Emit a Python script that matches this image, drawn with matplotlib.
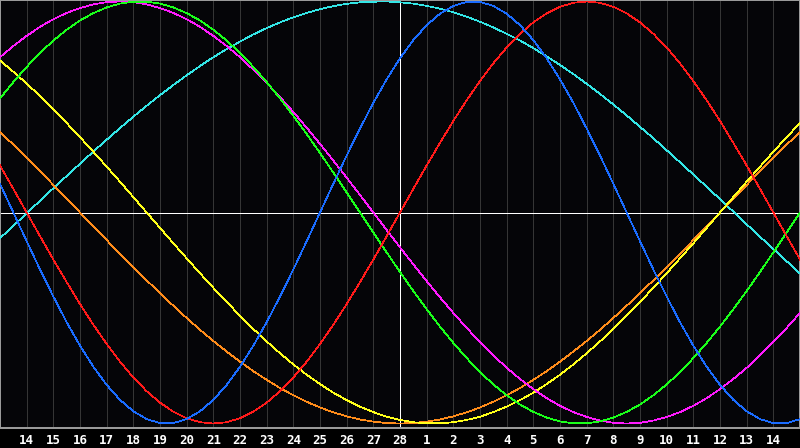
import numpy as np
import matplotlib
matplotlib.use("Agg")
import matplotlib.pyplot as plt

# day labels under the grid lines (left edge is the 13th, right edge the 15th)
day_labels = ['14', '15', '16', '17', '18', '19', '20', '21', '22', '23', '24', '25', '26', '27', '28',
              '1', '2', '3', '4', '5', '6', '7', '8', '9', '10', '11', '12', '13', '14']

# cycle values read every half day, from the left edge to the right edge
physical = [0.136, 0.0, -0.136, -0.270, -0.398, -0.520, -0.631, -0.731, -0.817, -0.888, -0.942,
            -0.979, -0.998, -0.998, -0.979, -0.942, -0.888, -0.817, -0.731, -0.631, -0.520,
            -0.398, -0.270, -0.136, 0.0, 0.136, 0.270, 0.398, 0.520, 0.631, 0.731, 0.817, 0.888,
            0.942, 0.979, 0.998, 0.998, 0.979, 0.942, 0.888, 0.817, 0.731, 0.631, 0.520, 0.398,
            0.270, 0.136, 0.0, -0.136, -0.270, -0.398, -0.520, -0.631, -0.731, -0.817, -0.888,
            -0.942, -0.979, -0.998, -0.998, -0.979]
emotional = [0.223, 0.112, 0.0, -0.112, -0.223, -0.330, -0.434, -0.532, -0.623, -0.707, -0.782,
             -0.847, -0.901, -0.944, -0.975, -0.994, -1.0, -0.994, -0.975, -0.944, -0.901, -0.847,
             -0.782, -0.707, -0.623, -0.532, -0.434, -0.330, -0.223, -0.112, 0.0, 0.112, 0.223,
             0.330, 0.434, 0.532, 0.623, 0.707, 0.782, 0.847, 0.901, 0.944, 0.975, 0.994, 1.0,
             0.994, 0.975, 0.944, 0.901, 0.847, 0.782, 0.707, 0.623, 0.532, 0.434, 0.330, 0.223,
             0.112, 0.0, -0.112, -0.223]
intellectual = [0.541, 0.618, 0.690, 0.756, 0.815, 0.866, 0.910, 0.945, 0.972, 0.990, 0.999, 0.999,
                0.990, 0.972, 0.945, 0.910, 0.866, 0.815, 0.756, 0.690, 0.618, 0.541, 0.458, 0.372,
                0.282, 0.189, 0.095, 0.0, -0.095, -0.189, -0.282, -0.372, -0.458, -0.541, -0.618,
                -0.690, -0.756, -0.815, -0.866, -0.910, -0.945, -0.972, -0.990, -0.999, -0.999,
                -0.990, -0.972, -0.945, -0.910, -0.866, -0.815, -0.756, -0.690, -0.618, -0.541,
                -0.458, -0.372, -0.282, -0.189, -0.095, 0.0]
intuitive = [0.736, 0.789, 0.837, 0.880, 0.916, 0.946, 0.969, 0.986, 0.997, 1.0, 0.997, 0.986,
             0.969, 0.946, 0.916, 0.880, 0.837, 0.789, 0.736, 0.677, 0.614, 0.547, 0.476, 0.402,
             0.325, 0.246, 0.165, 0.083, 0.0, -0.083, -0.165, -0.246, -0.325, -0.402, -0.476,
             -0.547, -0.614, -0.677, -0.736, -0.789, -0.837, -0.880, -0.916, -0.946, -0.969,
             -0.986, -0.997, -1.0, -0.997, -0.986, -0.969, -0.946, -0.916, -0.880, -0.837, -0.789,
             -0.736, -0.677, -0.614, -0.547, -0.476]
aesthetic = [0.720, 0.667, 0.611, 0.552, 0.489, 0.424, 0.357, 0.288, 0.217, 0.146, 0.073, 0.0,
             -0.073, -0.146, -0.217, -0.288, -0.357, -0.424, -0.489, -0.552, -0.611, -0.667,
             -0.720, -0.769, -0.813, -0.854, -0.889, -0.920, -0.946, -0.968, -0.983, -0.994,
             -0.999, -0.999, -0.994, -0.983, -0.968, -0.946, -0.920, -0.889, -0.854, -0.813,
             -0.769, -0.720, -0.667, -0.611, -0.552, -0.489, -0.424, -0.357, -0.288, -0.217,
             -0.146, -0.073, 0.0, 0.073, 0.146, 0.217, 0.288, 0.357, 0.424]
awareness = [0.383, 0.321, 0.259, 0.195, 0.131, 0.065, 0.0, -0.065, -0.131, -0.195, -0.259, -0.321,
             -0.383, -0.442, -0.5, -0.556, -0.609, -0.659, -0.707, -0.752, -0.793, -0.832, -0.866,
             -0.897, -0.924, -0.947, -0.966, -0.981, -0.991, -0.998, -1.0, -0.998, -0.991, -0.981,
             -0.966, -0.947, -0.924, -0.897, -0.866, -0.832, -0.793, -0.752, -0.707, -0.659,
             -0.609, -0.556, -0.5, -0.442, -0.383, -0.321, -0.259, -0.195, -0.131, -0.065, 0.0,
             0.065, 0.131, 0.195, 0.259, 0.321, 0.383]
spiritual = [-0.122, -0.063, -0.004, 0.056, 0.115, 0.173, 0.231, 0.289, 0.345, 0.400, 0.454, 0.506,
             0.556, 0.604, 0.650, 0.694, 0.736, 0.774, 0.810, 0.844, 0.874, 0.901, 0.925, 0.946,
             0.964, 0.978, 0.989, 0.996, 0.999, 1.0, 0.996, 0.990, 0.979, 0.966, 0.949, 0.928,
             0.904, 0.877, 0.847, 0.815, 0.779, 0.740, 0.699, 0.656, 0.610, 0.562, 0.512, 0.460,
             0.406, 0.352, 0.295, 0.238, 0.180, 0.122, 0.063, 0.004, -0.056, -0.115, -0.173,
             -0.231, -0.289]

series = [
    (spiritual, '#33e6e6'),
    (awareness, '#ff8c1a'),
    (aesthetic, '#ffff1a'),
    (intuitive, '#ff1aff'),
    (intellectual, '#1aff1a'),
    (emotional, '#ff1a1a'),
    (physical, '#1a6cff'),
]

n_days = len(day_labels) + 1
days = np.linspace(0, n_days, len(physical))
px = 72 / 100  # one pixel in points

fig = plt.figure(figsize=(8, 4.48), dpi=100, facecolor='black')
ax = fig.add_axes([0, 20 / 448, 1, 428 / 448])
ax.set_facecolor('#050508')

# day grid
for d in range(1, n_days):
    ax.axvline(d, color='#353535', lw=0.7 * px, antialiased=False, zorder=1)
ax.axvline(n_days / 2, color='white', lw=0.7 * px, antialiased=False, zorder=2)
ax.axhline(0, color='white', lw=0.7 * px, antialiased=False, zorder=2)

for values, col in series:
    ax.plot(days, values, color=col, lw=0.7 * px, antialiased=False, zorder=3)

ax.set_xlim(0, n_days)
ax.set_ylim(-1.0213, 1.0071)
ax.set_xticks(range(1, n_days))
ax.set_xticklabels(day_labels)
ax.set_yticks([])
ax.tick_params(axis='x', length=0, pad=4, labelcolor='white')
for lab in ax.get_xticklabels():
    lab.set_fontfamily('DejaVu Sans Mono')
    lab.set_fontweight('bold')
    lab.set_fontsize(9)
for s in ax.spines.values():
    s.set_color('#9a9a9a')
    s.set_linewidth(2 * px)

fig.savefig('out.png', dpi=100, facecolor='black')
